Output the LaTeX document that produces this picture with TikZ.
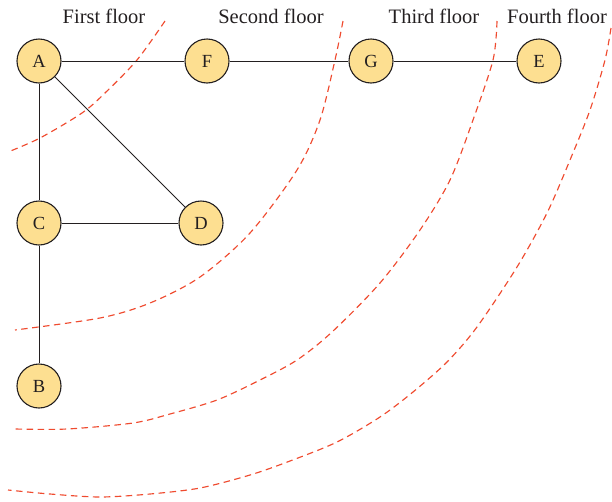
\documentclass[tikz,border=0pt]{standalone}
\usepackage{fontspec}
\setmainfont{Liberation Serif}
\definecolor{nodefill}{HTML}{FDDF91}
\definecolor{inkgray}{HTML}{231F20}
\definecolor{floorred}{HTML}{EF4B2F}
\begin{document}
\begin{tikzpicture}[x=1pt, y=-1pt]
	\tikzset{
		floornode/.style={circle, draw=inkgray, line width=1.1pt, fill=nodefill, minimum size=44pt, inner sep=0pt, font=\fontsize{18.5}{18}\selectfont, text=inkgray},
		edge/.style={draw=inkgray, line width=1pt},
		floorline/.style={draw=floorred, line width=1.15pt, dash pattern=on 6.5pt off 4.5pt},
		floorlabel/.style={font=\fontsize{20.5}{20}\selectfont, text=inkgray, inner sep=0pt}
	}
	\useasboundingbox (0,0) rectangle (612,501);
	\draw[floorline] plot[smooth] coordinates {(165,21) (137,60) (105,93) (82,113) (40,138) (8,152)};
	\draw[floorline] plot[smooth] coordinates {(343,21) (335,60) (320,120) (297,170) (250,233) (200,277) (150,303) (100,318) (15,330)};
	\draw[floorline] plot[smooth] coordinates {(497,21) (493,60) (473,120) (450,180) (420,230) (380,283) (332,332) (297,360) (260,380) (217,400) (170,414) (133,423) (67,429) (15,429)};
	\draw[floorline] plot[smooth] coordinates {(611,28) (605,60) (590,110) (570,160) (547,213) (517,267) (477,327) (447,362) (413,392) (380,417) (337,442) (290,461) (250,475) (200,488) (150,494) (100,497) (50,494) (8,490)};
	\foreach \lbl/\txt/\x in {first/First floor/104, second/Second floor/271, third/Third floor/434, fourth/Fourth floor/557} {
		\node[floorlabel] (\lbl) at (\x,16) {\txt};
	}
	\foreach \name/\x/\y in {A/39/61, F/207/61, G/371/61, E/539/61, C/39/223, D/201/223, B/39/386} {
		\node[floornode] (\name) at (\x,\y) {\name};
	}
	\foreach \a/\b in {A/F, F/G, G/E, A/C, A/D, C/D, C/B} {
		\draw[edge] (\a) -- (\b);
	}
\end{tikzpicture}
\end{document}
